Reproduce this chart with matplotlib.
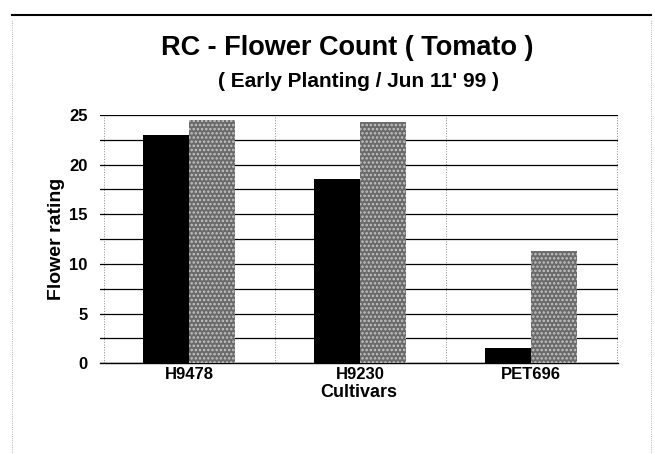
import matplotlib.pyplot as plt
from matplotlib.lines import Line2D
import numpy as np

plt.rcParams['font.family'] = ['Liberation Sans', 'DejaVu Sans']
plt.rcParams['hatch.linewidth'] = 1.2

cultivars = ['H9478', 'H9230', 'PET696']
series_a = [23.0, 18.5, 1.5]    # black bars
series_b = [24.5, 24.3, 11.3]   # grey bars

fig = plt.figure(figsize=(6.55, 4.54), dpi=100)
ax = fig.add_axes([0.153, 0.200, 0.790, 0.547])

x = np.arange(len(cultivars))
w = 0.27
ax.bar(x - w / 2, series_a, w, color='black', zorder=3)
ax.bar(x + w / 2, series_b, w, color='#6a6a6a', hatch='....', edgecolor='#c4c4c4', linewidth=0, zorder=3)

ax.set_xlim(-0.52, 2.505)
ax.set_ylim(0, 25)
ax.set_yticks([0, 5, 10, 15, 20, 25])
ax.set_yticks(np.arange(2.5, 25, 5), minor=True)
ax.tick_params(axis='y', which='both', length=0, labelsize=12, pad=9)
ax.tick_params(axis='x', length=0, labelsize=12, pad=3)
ax.set_xticks(x)
ax.set_xticklabels(cultivars)
for t in ax.get_yticklabels() + ax.get_xticklabels():
    t.set_fontweight('bold')

ax.grid(axis='y', which='both', color='black', linewidth=0.9, zorder=0)
for xv in [-0.5, 0.5, 1.5, 2.5]:
    ax.axvline(xv, color='#888888', linewidth=0.7, linestyle=':', zorder=0)
for s in ['top', 'right', 'left']:
    ax.spines[s].set_visible(False)
ax.spines['bottom'].set_linewidth(1.0)

ax.set_ylabel('Flower rating', fontsize=14, fontweight='bold', labelpad=3)
ax.set_xlabel('Cultivars', fontsize=13, fontweight='bold', labelpad=1)

fig.text(0.53, 0.894, 'RC - Flower Count ( Tomato )', fontsize=19.5, fontweight='bold', ha='center', va='center')
fig.text(0.547, 0.821, '( Early Planting / Jun 11\' 99 )', fontsize=15, fontweight='bold', ha='center', va='center')

# page frame
fig.add_artist(Line2D([0.018, 0.994], [0.967, 0.967], color='black', linewidth=1.5))
fig.add_artist(Line2D([0.018, 0.018], [0.0, 0.955], color='#999999', linewidth=0.6, linestyle=':'))
fig.add_artist(Line2D([0.994, 0.994], [0.0, 0.955], color='#999999', linewidth=0.6, linestyle=':'))

fig.savefig('out.png', dpi=100)
